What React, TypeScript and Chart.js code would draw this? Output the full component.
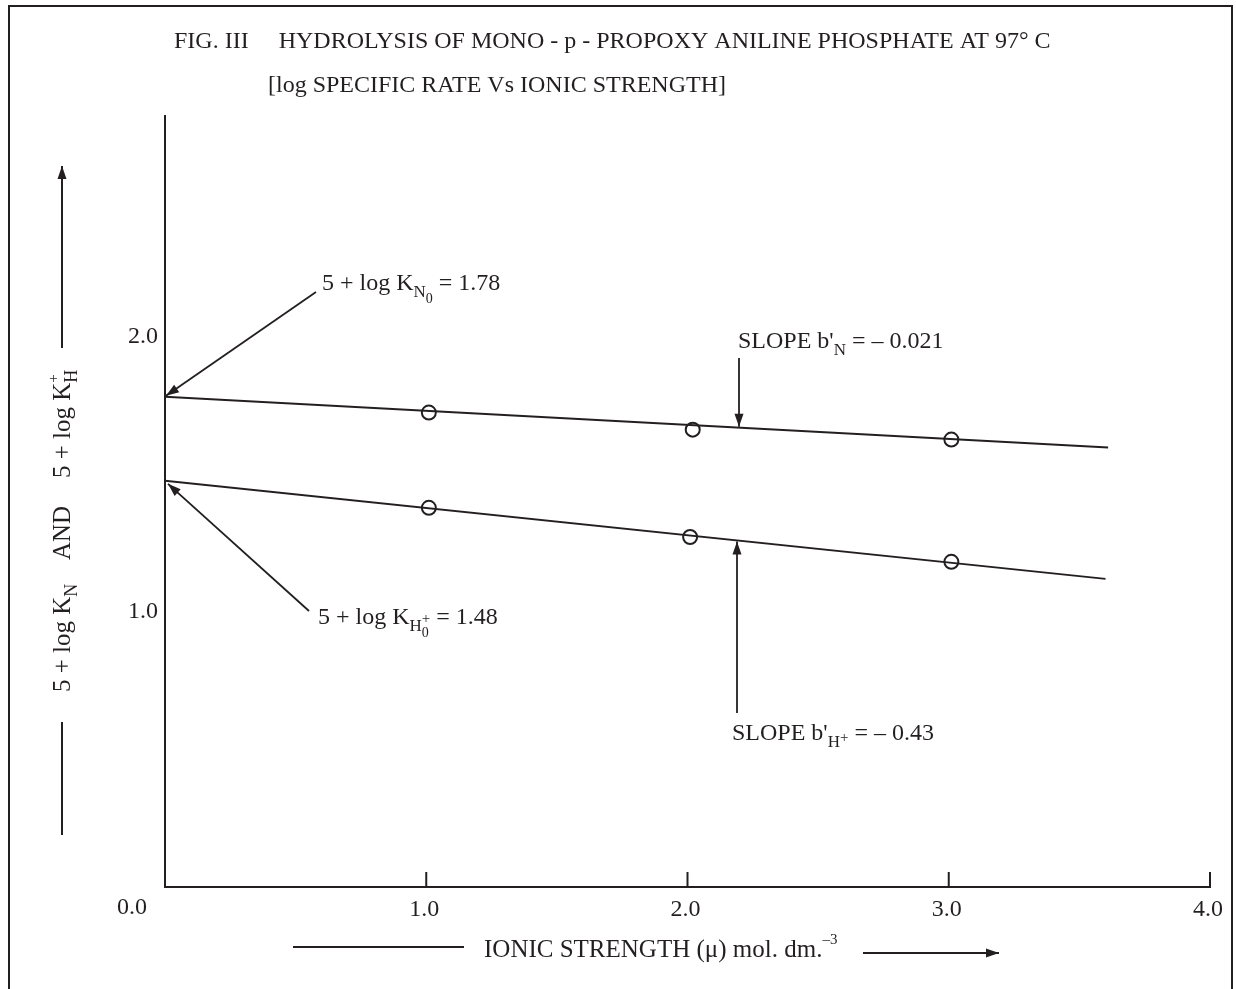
import React, { useEffect, useRef } from 'react';
import { Chart, registerables } from 'chart.js';

Chart.register(...registerables);

// ---- data ----
const fitX = [0, 3.61];
const upperFitY = [1.78, 1.596];
const lowerFitX = [0, 3.6];
const lowerFitY = [1.475, 1.119];
const upperPointX = [1.01, 2.02, 3.01];
const upperPointY = [1.723, 1.661, 1.625];
const lowerPointX = [1.01, 2.01, 3.01];
const lowerPointY = [1.377, 1.271, 1.181];
const xTickValues = [0, 1, 2, 3, 4];
const xTickLabels = ['0.0', '1.0', '2.0', '3.0', '4.0'];
const yTickValues = [1, 2];
const yTickLabels = ['1.0', '2.0'];

const INK = '#231f20';
const FONT = '"Liberation Serif", "Times New Roman", serif';

type Seg = { t: string; size?: number; dy?: number; stack?: { t: string; size: number; dy: number }[] };

function drawRich(ctx: CanvasRenderingContext2D, x: number, y: number, segs: Seg[], base: number) {
  let cx = x;
  ctx.textBaseline = 'alphabetic';
  ctx.textAlign = 'left';
  for (const s of segs) {
    if (s.stack) {
      let w = 0;
      for (const st of s.stack) {
        ctx.font = `${st.size}px ${FONT}`;
        ctx.fillText(st.t, cx, y + st.dy);
        w = Math.max(w, ctx.measureText(st.t).width);
      }
      cx += w;
    } else {
      const size = s.size ?? base;
      ctx.font = `${size}px ${FONT}`;
      ctx.fillText(s.t, cx, y + (s.dy ?? 0));
      cx += ctx.measureText(s.t).width;
    }
  }
  return cx - x;
}

function arrow(ctx: CanvasRenderingContext2D, x1: number, y1: number, x2: number, y2: number, head = true) {
  ctx.beginPath();
  ctx.moveTo(x1, y1);
  ctx.lineTo(x2, y2);
  ctx.stroke();
  if (!head) return;
  const a = Math.atan2(y2 - y1, x2 - x1);
  const L = 13, W = 4.5;
  ctx.beginPath();
  ctx.moveTo(x2, y2);
  ctx.lineTo(x2 - L * Math.cos(a) + W * Math.sin(a), y2 - L * Math.sin(a) - W * Math.cos(a));
  ctx.lineTo(x2 - L * Math.cos(a) - W * Math.sin(a), y2 - L * Math.sin(a) + W * Math.cos(a));
  ctx.closePath();
  ctx.fill();
}

const decor = {
  id: 'decor',
  beforeDraw(chart: any) {
    const ctx = chart.ctx as CanvasRenderingContext2D;
    ctx.save();
    ctx.fillStyle = '#ffffff';
    ctx.fillRect(0, 0, chart.width, chart.height);
    ctx.restore();
  },
  afterDraw(chart: any) {
    const ctx = chart.ctx as CanvasRenderingContext2D;
    const xs = chart.scales.x;
    const ys = chart.scales.y;
    const area = chart.chartArea;
    ctx.save();
    ctx.strokeStyle = INK;
    ctx.fillStyle = INK;
    ctx.lineWidth = 2;

    // frame
    ctx.beginPath();
    ctx.moveTo(9, chart.height);
    ctx.lineTo(9, 6);
    ctx.lineTo(1232, 6);
    ctx.lineTo(1232, chart.height);
    ctx.stroke();

    // inward x tick marks
    for (const v of xTickValues) {
      if (v === 0) continue;
      const px = xs.getPixelForValue(v);
      ctx.beginPath();
      ctx.moveTo(px, area.bottom);
      ctx.lineTo(px, area.bottom - 15);
      ctx.stroke();
    }
    // origin label
    ctx.font = `24px ${FONT}`;
    ctx.textAlign = 'center';
    ctx.textBaseline = 'middle';
    ctx.fillText(xTickLabels[0], xs.getPixelForValue(0) - 33, area.bottom + 21);

    // titles
    drawRich(ctx, 174, 48, [{ t: 'FIG. III     HYDROLYSIS OF MONO - p - PROPOXY ANILINE PHOSPHATE AT 97° C' }], 24);
    drawRich(ctx, 268, 92, [{ t: '[log SPECIFIC RATE Vs IONIC STRENGTH]' }], 24);

    // annotations
    drawRich(ctx, 322, 290, [
      { t: '5 + log K' },
      { t: 'N', size: 17, dy: 7 },
      { t: '0', size: 14, dy: 13 },
      { t: ' = 1.78' },
    ], 24);
    drawRich(ctx, 738, 348, [
      { t: "SLOPE b'" },
      { t: 'N', size: 17, dy: 7 },
      { t: ' = – 0.021' },
    ], 24);
    drawRich(ctx, 318, 624, [
      { t: '5 + log K' },
      { t: 'H', size: 17, dy: 7 },
      { t: '', stack: [{ t: '+', size: 15, dy: -1 }, { t: '0', size: 14, dy: 13 }] },
      { t: ' = 1.48' },
    ], 24);
    drawRich(ctx, 732, 740, [
      { t: "SLOPE b'" },
      { t: 'H', size: 17, dy: 7 },
      { t: '+', size: 15, dy: 2 },
      { t: ' = – 0.43' },
    ], 24);

    // annotation arrows
    ctx.lineWidth = 1.8;
    arrow(ctx, 316, 292, xs.getPixelForValue(0) + 1, ys.getPixelForValue(upperFitY[0]) - 1);
    arrow(ctx, 309, 611, xs.getPixelForValue(0) + 3, ys.getPixelForValue(lowerFitY[0]) + 3);
    const onLine = (px: number, fx: number[], fy: number[]) => {
      const v = xs.getValueForPixel(px);
      const y = fy[0] + (fy[1] - fy[0]) * (v - fx[0]) / (fx[1] - fx[0]);
      return ys.getPixelForValue(y);
    };
    arrow(ctx, 739, 358, 739, onLine(739, fitX, upperFitY) - 1);
    arrow(ctx, 737, 713, 737, onLine(737, lowerFitX, lowerFitY) + 1);

    // y-axis title (rotated)
    ctx.lineWidth = 2;
    arrow(ctx, 62, 348, 62, 166);
    arrow(ctx, 62, 835, 62, 722, false);
    const rot = (bottomY: number, segs: Seg[]) => {
      ctx.save();
      ctx.translate(62, bottomY);
      ctx.rotate(-Math.PI / 2);
      drawRich(ctx, 0, 8, segs, 25);
      ctx.restore();
    };
    rot(692, [{ t: '5 + log K' }, { t: 'N', size: 18, dy: 7 }]);
    rot(560, [{ t: 'AND' }]);
    rot(478, [{ t: '5 + log K' }, { t: '', stack: [{ t: '+', size: 15, dy: -12 }, { t: 'H', size: 18, dy: 7 }] }]);

    // x-axis title
    ctx.beginPath();
    ctx.moveTo(293, 947);
    ctx.lineTo(464, 947);
    ctx.stroke();
    drawRich(ctx, 484, 957, [
      { t: 'IONIC STRENGTH (μ) mol. dm.' },
      { t: '–3', size: 15, dy: -13 },
    ], 25);
    arrow(ctx, 863, 953, 999, 953);

    ctx.restore();
  },
};

export default function App() {
  const ref = useRef<HTMLCanvasElement | null>(null);
  useEffect(() => {
    if (!ref.current) return;
    const pointStyle = {
      showLine: false,
      pointRadius: 7,
      pointBorderWidth: 2,
      pointBackgroundColor: 'rgba(0,0,0,0)',
      pointBorderColor: INK,
      borderColor: INK,
    };
    const chart = new Chart(ref.current, {
      type: 'line',
      data: {
        datasets: [
          {
            data: fitX.map((x, i) => ({ x, y: upperFitY[i] })),
            borderColor: INK,
            borderWidth: 2,
            pointRadius: 0,
          },
          {
            data: lowerFitX.map((x, i) => ({ x, y: lowerFitY[i] })),
            borderColor: INK,
            borderWidth: 2,
            pointRadius: 0,
          },
          { ...pointStyle, data: upperPointX.map((x, i) => ({ x, y: upperPointY[i] })) },
          { ...pointStyle, data: lowerPointX.map((x, i) => ({ x, y: lowerPointY[i] })) },
        ],
      },
      options: {
        animation: false,
        responsive: false,
        maintainAspectRatio: false,
        layout: { padding: { top: 116, right: 26, left: 0, bottom: 0 } },
        plugins: {
          legend: { display: false },
          tooltip: { enabled: false },
          title: { display: false },
        },
        scales: {
          x: {
            type: 'linear',
            min: 0,
            max: 4,
            afterBuildTicks: (s: any) => {
              s.ticks = xTickValues.map((v) => ({ value: v }));
            },
            afterFit: (s: any) => {
              s.height = 102;
            },
            ticks: {
              autoSkip: false,
              maxRotation: 0,
              padding: 8,
              labelOffset: -2,
              color: INK,
              font: { family: FONT, size: 24 },
              callback: (v: any) => {
                const i = xTickValues.indexOf(Number(v));
                return i <= 0 ? '' : xTickLabels[i];
              },
            },
            grid: { display: false, drawTicks: false },
            border: { display: true, color: INK, width: 2 },
          },
          y: {
            type: 'linear',
            min: 0,
            max: 2.8,
            afterBuildTicks: (s: any) => {
              s.ticks = [0, ...yTickValues].map((v) => ({ value: v }));
            },
            afterFit: (s: any) => {
              s.width = 165;
            },
            ticks: {
              autoSkip: false,
              padding: 7,
              color: INK,
              font: { family: FONT, size: 24 },
              callback: (v: any) => {
                const i = yTickValues.indexOf(Number(v));
                return i < 0 ? '' : yTickLabels[i];
              },
            },
            grid: { display: false, drawTicks: false },
            border: { display: true, color: INK, width: 2 },
          },
        },
      },
      plugins: [decor],
    } as any);
    return () => chart.destroy();
  }, []);
  return (
    <div style={{ position: 'absolute', left: 0, top: 0, width: 1236, height: 989 }}>
      <canvas ref={ref} width={1236} height={989} style={{ display: 'block', width: 1236, height: 989 }} />
    </div>
  );
}
